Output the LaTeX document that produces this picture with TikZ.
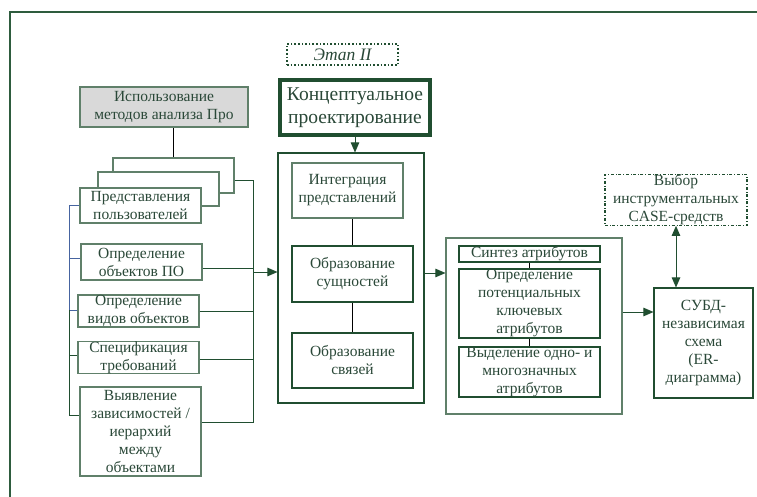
\documentclass[tikz,border=0pt]{standalone}
\usepackage{fontspec}
\setmainfont{Liberation Serif}
\usetikzlibrary{calc,arrows.meta}
\definecolor{boxline}{RGB}{96,128,106}
\definecolor{darkline}{RGB}{32,78,48}
\definecolor{txtc}{RGB}{42,72,56}
\definecolor{frame}{RGB}{46,92,62}
\definecolor{blueline}{RGB}{70,100,160}
\definecolor{grayfill}{RGB}{217,217,217}
\begin{document}
\begin{tikzpicture}[x=1pt,y=-1pt,
  bx/.style={draw=boxline, line width=1.1pt, fill=white, inner sep=0pt, align=center,
    text=txtc, font=\fontsize{15.5}{18}\selectfont},
  dbx/.style={bx, draw=darkline},
  conn/.style={line width=0.9pt, draw=darkline},
  arr/.style={conn, -{Triangle[length=10pt,width=8.5pt]}},
  darr/.style={conn, {Triangle[length=10pt,width=8.5pt]}-{Triangle[length=10pt,width=8.5pt]}}]
\useasboundingbox (0,0) rectangle (757,497);
% outer frame (top and left visible)
\draw[frame, line width=1.2pt] (10,497) -- (10,12) -- (757,12);

% left column
\node[bx, fill=grayfill, minimum width=168pt, minimum height=40pt] (gray) at (164,107) {Использование\\методов анализа Про};
\node[bx, minimum width=121pt, minimum height=35pt] (back1) at (173.5,175.5) {};
\node[bx, minimum width=121pt, minimum height=34pt] (back2) at (158.5,189) {};
\node[bx, minimum width=121pt, minimum height=35pt] (pred) at (140.5,205.5) {Представления\\пользователей};
\node[bx, minimum width=121pt, minimum height=36pt] (objpo) at (141.5,262) {Определение\\объектов ПО};
\node[bx, minimum width=121pt, minimum height=32pt] (vidy) at (138.5,311) {Определение\\видов объектов};
\node[bx, minimum width=121pt, minimum height=31pt] (spec) at (138.5,357.5) {Спецификация\\требований};
\node[bx, minimum width=121pt, minimum height=89pt] (vyyav) at (140.5,431.5) {Выявление\\зависимостей /\\иерархий\\между\\объектами};

\draw[line width=0.9pt] (back1.north) -- (back1.north |- gray.south);
\coordinate (rtop) at (253,180);
\coordinate (rbot) at (253,422);
\coordinate (b1R) at ($(back1.east)+(0,4.5)$);
\coordinate (oR) at ($(objpo.east)+(0,6)$);
\coordinate (sR) at ($(spec.east)+(0,1.5)$);
\draw[conn] (b1R) -- (rtop) -- (rbot) -- (rbot -| vyyav.east);
\draw[conn] (oR) -- (oR -| rtop);
\draw[conn] (vidy.east) -- (vidy.east -| rtop);
\draw[conn] (sR) -- (sR -| rtop);

% left blue/green bracket
\coordinate (ltop) at (69,205.5);
\coordinate (lmid) at (69,310);
\coordinate (lbot) at (69,415);
\coordinate (oL) at ($(objpo.west)+(0,-4)$);
\coordinate (vL) at ($(vidy.west)+(0,-1)$);
\coordinate (sL) at ($(spec.west)+(0,-2.5)$);
\draw[blueline, line width=0.9pt] (pred.west) -- (ltop) -- (lmid);
\draw[blueline, line width=0.9pt] (oL) -- (oL -| ltop);
\draw[blueline, line width=0.9pt] (vL) -- (vL -| ltop);
\draw[conn] (lmid) -- (lbot) -- (lbot -| vyyav.west);
\draw[conn] (sL) -- (sL -| ltop);

% middle column
\node[draw=darkline, dotted, line width=1.6pt, minimum width=111pt, minimum height=21pt, inner sep=0pt,
  text=txtc, font=\fontsize{17.5}{20}\selectfont\itshape] (etap) at (342.5,54.5) {Этап II};
\node[bx, draw=darkline, line width=4pt, minimum width=150pt, minimum height=55pt,
  font=\fontsize{19.5}{23}\selectfont] (konc) at (355,107.5) {Концептуальное\\проектирование};
\node[dbx, minimum width=146pt, minimum height=250pt] (mid) at (351,278) {};
\node[bx, minimum width=111pt, minimum height=55pt] (integ) at (347.5,190.5) {Интеграция\\представлений};
\node[dbx, minimum width=121pt, minimum height=56pt] (sush) at (352.5,274) {Образование\\сущностей};
\node[dbx, minimum width=121pt, minimum height=55pt] (svyaz) at (352.5,360.5) {Образование\\связей};
\draw[line width=0.9pt] (sush.north) -- (sush.north |- integ.south);
\draw[line width=0.9pt] (sush.south) -- (svyaz.north);
\draw[arr] (konc.south) -- (konc.south |- mid.north);
\coordinate (lArr) at (253,272);
\draw[arr] (lArr) -- (lArr -| mid.west);

% attributes column
\node[bx, minimum width=176pt, minimum height=176pt] (attr) at (534,326) {};
\node[dbx, minimum width=141pt, minimum height=16pt] (sintez) at (529.5,254) {Синтез атрибутов};
\node[dbx, minimum width=141pt, minimum height=69pt] (opr) at (529.5,303.5) {Определение\\потенциальных\\ключевых\\атрибутов};
\node[dbx, minimum width=141pt, minimum height=50pt] (vydel) at (529.5,372) {Выделение одно- и\\многозначных\\атрибутов};
\draw[line width=0.9pt] (sintez.south) -- (opr.north);
\draw[line width=0.9pt] (opr.south) -- (vydel.north);
\coordinate (mR) at ($(mid.east)+(0,-5)$);
\draw[arr] (mR) -- (mR -| attr.west);

% right column
\node[draw=darkline, dash dot, line width=1.3pt, minimum width=142pt, minimum height=48pt, inner sep=0pt,
  align=center, text=txtc, font=\fontsize{15.5}{18}\selectfont] (case) at (676,200) {Выбор\\инструментальных\\CASE-средств};
\node[dbx, minimum width=99pt, minimum height=110pt] (subd) at (703.5,343) {СУБД-\\независимая\\схема\\(ER-\\диаграмма)};
\draw[darr] (case.south) -- (case.south |- subd.north);
\coordinate (aout) at ($(attr.east)+(0,-14)$);
\draw[arr] (aout) -- (aout -| subd.west);
\end{tikzpicture}
\end{document}
